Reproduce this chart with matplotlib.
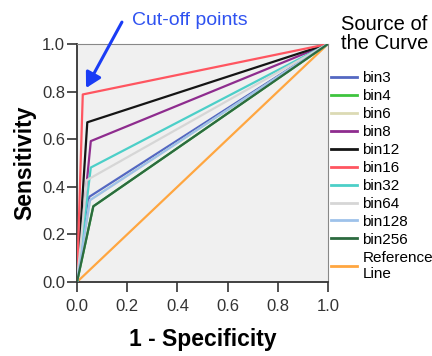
import matplotlib.pyplot as plt

plt.rcParams['font.family'] = ['Liberation Sans', 'DejaVu Sans']

# ROC curves with one cut-off point each: (0,0) -> (fpr, tpr) -> (1,1)
names = ['bin3', 'bin4', 'bin6', 'bin8', 'bin12', 'bin16', 'bin32', 'bin64', 'bin128', 'bin256']
fpr = [0.049, 0.065, 0.052, 0.055, 0.041, 0.023, 0.055, 0.039, 0.052, 0.065]
tpr = [0.358, 0.318, 0.344, 0.592, 0.671, 0.788, 0.481, 0.428, 0.344, 0.318]
colors = ['#5468c2', '#3ec43e', '#dcdab4', '#8e2c8e', '#151515', '#ff5560',
          '#4ccfc8', '#d6d6d6', '#9ec2ea', '#2c6a3f']
ref_color = '#ffa640'

fig = plt.figure(figsize=(4.32, 3.56), dpi=100)
ax = fig.add_axes([77/432, 1 - 282/356, 251/432, 238/356])
ax.set_facecolor('#f0f0f0')

ax.plot([0, 1], [0, 1], color=ref_color, lw=1.6, zorder=2)
for i in range(len(names)):
    ax.plot([0, fpr[i], 1], [0, tpr[i], 1], color=colors[i], lw=1.6, zorder=3)
handles = []
for i in range(len(names)):
    h, = ax.plot([], [], color=colors[i], lw=2, label=names[i])
    handles.append(h)
h_ref, = ax.plot([], [], color=ref_color, lw=2, label='Reference\nLine')
handles.append(h_ref)

ax.set_xlim(0, 1)
ax.set_ylim(0, 1)
ticks = [0, 0.2, 0.4, 0.6, 0.8, 1.0]
ax.set_xticks(ticks)
ax.set_yticks(ticks)
ax.set_xticklabels(['%.1f' % t for t in ticks])
ax.set_yticklabels(['%.1f' % t for t in ticks])
ax.tick_params(direction='out', length=7, width=1.2, color='#333333',
               labelcolor='#333333', labelsize=12, pad=1.5)
ax.tick_params(axis='x', pad=5)
for s in ['left', 'bottom']:
    ax.spines[s].set_color('#333333')
    ax.spines[s].set_linewidth(1.3)
for s in ['top', 'right']:
    ax.spines[s].set_color('#888888')
    ax.spines[s].set_linewidth(0.8)

ax.set_xlabel('1 - Specificity', fontsize=16.5, fontweight='bold', labelpad=10)
ax.set_ylabel('Sensitivity', fontsize=16.5, fontweight='bold', labelpad=4)

fig.text(341/432, 1 - 34/356, 'Source of\nthe Curve', fontsize=14.5,
         ha='left', va='center', linespacing=1.0)
leg = fig.legend(handles=handles, loc='upper left',
                 bbox_to_anchor=(328/432, 1 - 68/356), frameon=False, fontsize=11,
                 handlelength=1.7, handletextpad=0.35, labelspacing=0.26,
                 borderaxespad=0.0, borderpad=0.2)

ax.text(0.22, 1.10, 'Cut-off points', color='#2f52f0', fontsize=14,
        va='center', ha='left', transform=ax.transData, clip_on=False)
ax.annotate('', xy=(0.036, 0.815), xytext=(0.179, 1.092), textcoords='data',
            annotation_clip=False,
            arrowprops=dict(arrowstyle='-|>,head_length=0.9,head_width=0.5',
                            color='#1a3cf5', lw=2.2, shrinkA=0, shrinkB=0))

fig.savefig('out.png', dpi=100)
